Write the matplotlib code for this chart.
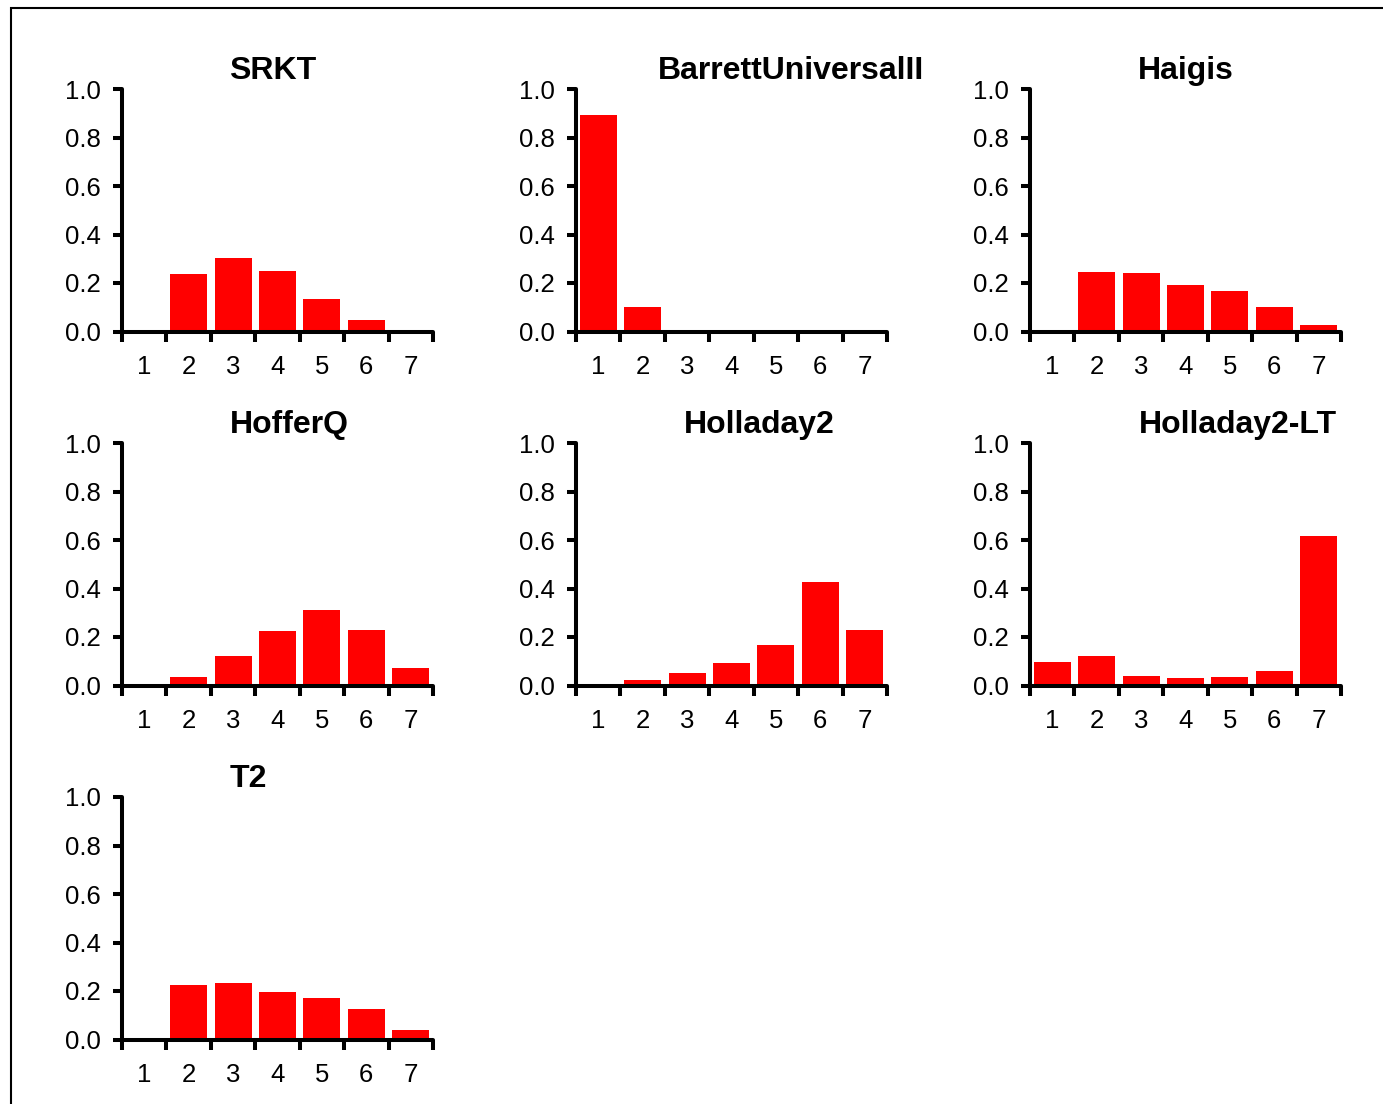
import matplotlib
matplotlib.use("Agg")
import matplotlib.pyplot as plt
from matplotlib.patches import Rectangle

plt.rcParams["font.family"] = ["Liberation Sans", "DejaVu Sans"]

# proportion of eyes per rank (1-7) for each formula
categories = [1, 2, 3, 4, 5, 6, 7]
titles = ["SRKT", "BarrettUniversalII", "Haigis", "HofferQ", "Holladay2", "Holladay2-LT", "T2"]
srkt = [0.0, 0.237, 0.302, 0.250, 0.132, 0.047, 0.0]
barrett = [0.893, 0.100, 0.0, 0.0, 0.0, 0.0, 0.0]
haigis = [0.0, 0.244, 0.240, 0.193, 0.168, 0.101, 0.027]
hofferq = [0.0, 0.034, 0.122, 0.223, 0.311, 0.229, 0.071]
holladay2 = [0.0, 0.023, 0.052, 0.093, 0.168, 0.426, 0.228]
holladay2_lt = [0.097, 0.122, 0.038, 0.030, 0.034, 0.059, 0.616]
t2 = [0.0, 0.225, 0.234, 0.197, 0.173, 0.125, 0.039]
yticks = [0.0, 0.2, 0.4, 0.6, 0.8, 1.0]

series = [srkt, barrett, haigis, hofferq, holladay2, holladay2_lt, t2]
# where each title sits along its axis (fraction of axis width)
title_x = [0.486, 0.691, 0.5, 0.537, 0.588, 0.668, 0.405]

W, H = 1383, 1104
fig = plt.figure(figsize=(W / 100, H / 100), dpi=100)

col_left = [122, 576, 1030]
row_base = [331.5, 685.5, 1039.5]
ax_w, ax_h = 311, 242.5

for i, (name, vals) in enumerate(zip(titles, series)):
    r, c = divmod(i, 3)
    ax = fig.add_axes([col_left[c] / W, 1 - row_base[r] / H, ax_w / W, ax_h / H])
    ax.bar(categories, vals, width=0.83, color="#ff0000")
    ax.set_xlim(0.5, 7.5)
    ax.set_ylim(0, 1.0)
    ax.set_yticks(yticks)
    ax.set_yticklabels([f"{v:.1f}" for v in yticks])
    # tick marks between the bars, labels under them
    ax.set_xticks([k + 0.5 for k in range(8)], minor=False)
    ax.set_xticklabels([])
    ax.set_xticks(categories, minor=True)
    ax.set_xticklabels([str(k) for k in categories], minor=True)
    ax.tick_params(axis="x", which="major", direction="out", length=7.5, width=2.9)
    ax.tick_params(axis="x", which="minor", length=0, pad=17, labelsize=18.5)
    ax.tick_params(axis="y", direction="out", length=6.5, width=2.9, pad=9, labelsize=18.5)
    for s in ["top", "right"]:
        ax.spines[s].set_visible(False)
    for s in ["left", "bottom"]:
        ax.spines[s].set_linewidth(2.9)
        ax.spines[s].set_capstyle("round")
    ax.text(title_x[i], 1.075, name, transform=ax.transAxes, ha="center",
            va="center", fontsize=23, fontweight="bold")

# frame cut off at the right and bottom edges
fig.patches.append(Rectangle((11 / W, -0.1), 1.2, 1 - 8 / H + 0.1,
                             transform=fig.transFigure, fill=False,
                             edgecolor="black", linewidth=1.5))

plt.savefig("out.png", dpi=100)
plt.close()
